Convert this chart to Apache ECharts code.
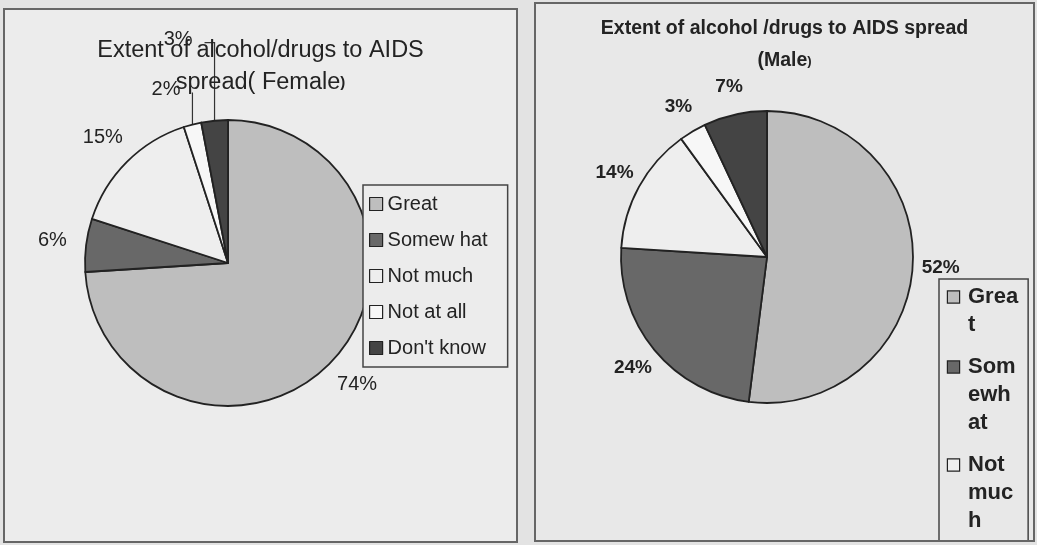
<!DOCTYPE html>
<html>
<head>
<meta charset="utf-8">
<title>Extent of alcohol/drugs to AIDS spread</title>
<script src="https://cdn.jsdelivr.net/npm/echarts@6/dist/echarts.min.js"></script>
<style>
  html, body { margin: 0; padding: 0; width: 1037px; height: 545px; overflow: hidden; background: #e3e3e3; }
  .panel { position: absolute; box-sizing: border-box; border: 2px solid #666666; }
  #female { left: 3px; top: 8px; width: 515px; height: 535px; background: #ececec; }
  #male { left: 534px; top: 2px; width: 501px; height: 540px; background: #e8e8e8; }
</style>
</head>
<body>
<div id="female" class="panel"></div>
<div id="male" class="panel"></div>
<script>
// Response categories and the share (%) of respondents in each
const categories = ['Great', 'Somewhat', 'Not much', 'Not at all', "Don't know"];
const femaleShare = [74, 6, 15, 2, 3];
const maleShare = [52, 24, 14, 3, 7];

// Legend wording as printed in each chart
const femaleLegendText = ['Great', 'Somew hat', 'Not much', 'Not at all', "Don't know"];
const maleLegendLines = [['Grea', 't'], ['Som', 'ewh', 'at'], ['Not', 'muc', 'h'], ['Not', 'at', 'all'], ['Don', "'t", 'kno', 'w']];

const FONT = '"Liberation Sans", Arial, Helvetica, sans-serif';
const INK = '#232323';
const sliceColors = ['#bebebe', '#686868', '#eeeeee', '#f7f7f7', '#444444'];

// Percentage labels sit just outside the rim on each slice's mid-angle;
// slices listed in `leaders` get a vertical leader line instead.
function placeLabels(cx, cy, gap, leaders) {
  return function (p) {
    const pts = p.labelLinePoints;
    if (!pts) return {};
    const x0 = pts[0][0], y0 = pts[0][1];
    const lead = leaders[categories[p.dataIndex]];
    if (lead) {
      const topY = y0 - lead.rise;
      const endX = x0 - lead.run;
      return {
        x: endX - 12, y: topY - 3, align: 'right', verticalAlign: 'middle',
        labelLinePoints: [[x0, y0], [x0, topY], [endX, topY]]
      };
    }
    const dx = x0 - cx, dy = y0 - cy, len = Math.hypot(dx, dy) || 1;
    return { x: x0 + dx / len * gap, y: y0 + dy / len * gap, align: 'center', verticalAlign: 'middle' };
  };
}

function pieSeries(values, cx, cy, r, gap, leaders, labelFont) {
  return {
    type: 'pie',
    center: [cx, cy],
    radius: r,
    startAngle: 90,
    clockwise: true,
    avoidLabelOverlap: false,
    silent: true,
    animation: false,
    emphasis: { disabled: true },
    data: categories.map((name, i) => {
      const item = { name: name, value: values[i], itemStyle: { color: sliceColors[i] } };
      if (leaders[name]) item.labelLine = { lineStyle: { opacity: 1 } };
      return item;
    }),
    itemStyle: { borderColor: '#222222', borderWidth: 1.8 },
    label: Object.assign({ show: true, position: 'outside', formatter: (p) => p.value + '%', color: INK }, labelFont),
    labelLine: { show: true, length: 10, length2: 0, lineStyle: { color: '#333333', width: 1.2, opacity: 0 } },
    labelLayout: placeLabels(cx, cy, gap, leaders)
  };
}

// ---- Female ----
const femaleChart = echarts.init(document.getElementById('female'), null, { renderer: 'canvas' });
const FEMALE_CX = 223, FEMALE_CY = 253, FEMALE_R = 143;
femaleChart.setOption({
  backgroundColor: 'transparent',
  animation: false,
  title: {
    text: '{t|Extent of alcohol/drugs to AIDS}\n{t|spread( Female}{p|)}',
    left: 'center', top: 25, padding: 0,
    textStyle: {
      rich: {
        t: { fontFamily: FONT, fontSize: 23.5, lineHeight: 32, color: INK, fontWeight: 'normal' },
        p: { fontFamily: FONT, fontSize: 15, lineHeight: 32, color: INK }
      }
    }
  },
  legend: {
    data: categories,
    orient: 'vertical', left: 358, top: 175,
    icon: 'rect', itemWidth: 13, itemHeight: 13, itemGap: 14,
    padding: [8, 20, 8, 6],
    backgroundColor: '#ececec', borderColor: '#444444', borderWidth: 1.5, borderRadius: 0,
    selectedMode: false,
    formatter: (name) => femaleLegendText[categories.indexOf(name)],
    textStyle: { fontFamily: FONT, fontSize: 20, color: INK, lineHeight: 22 },
    itemStyle: { borderColor: '#222222', borderWidth: 1.2 }
  },
  series: [pieSeries(femaleShare, FEMALE_CX, FEMALE_CY, FEMALE_R, 34,
    { 'Not at all': { rise: 32, run: 0 }, "Don't know": { rise: 78, run: 10 } },
    { fontFamily: FONT, fontSize: 20 })]
});

// ---- Male ----
const maleChart = echarts.init(document.getElementById('male'), null, { renderer: 'canvas' });
const MALE_CX = 231, MALE_CY = 253, MALE_R = 146;
const maleRich = {
  t: { fontFamily: FONT, fontSize: 22, fontWeight: 'bold', lineHeight: 28, color: INK },
  g: { width: 9, lineHeight: 28 },
  ind: { width: 20, lineHeight: 28 }
};
sliceColors.forEach((c, i) => {
  maleRich['k' + i] = { width: 11, height: 11, backgroundColor: c, borderColor: '#222222', borderWidth: 1.2 };
});
maleChart.setOption({
  backgroundColor: 'transparent',
  animation: false,
  title: {
    text: '{t|Extent of alcohol /drugs to AIDS spread}\n{t|(Male}{p|)}',
    left: 'center', top: 9, padding: 0,
    textStyle: {
      rich: {
        t: { fontFamily: FONT, fontSize: 19.5, fontWeight: 'bold', lineHeight: 32, color: INK },
        p: { fontFamily: FONT, fontSize: 13, fontWeight: 'bold', lineHeight: 32, color: INK }
      }
    }
  },
  legend: {
    data: categories,
    orient: 'vertical', left: 403, top: 275, height: 2000,
    icon: 'none', itemWidth: 0, itemHeight: 11, itemGap: 20,
    padding: [7, 10, 4, 4],
    backgroundColor: '#e8e8e8', borderColor: '#444444', borderWidth: 1.5, borderRadius: 0,
    selectedMode: false,
    formatter: (name) => {
      const i = categories.indexOf(name);
      const lines = maleLegendLines[i];
      return lines.map((l, j) => j === 0 ? '{k' + i + '|}{g|}{t|' + l + '}' : '{ind|}{t|' + l + '}').join('\n');
    },
    textStyle: { rich: maleRich }
  },
  series: [pieSeries(maleShare, MALE_CX, MALE_CY, MALE_R, 28, {},
    { fontFamily: FONT, fontSize: 19, fontWeight: 'bold' })]
});
</script>
</body>
</html>
